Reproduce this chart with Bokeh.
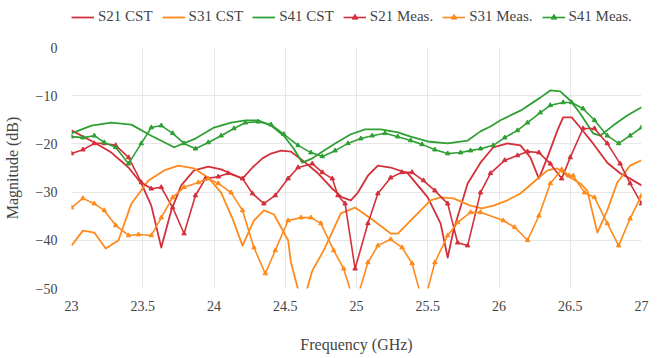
from bokeh.plotting import figure
from bokeh.layouts import column
from bokeh.models import FixedTicker, Legend, LegendItem, ColumnDataSource
from bokeh.embed import file_html
from bokeh.resources import INLINE

# ---------------- data (frequency in GHz, magnitude in dB) ----------------
s21_cst_f = [23.00, 23.16, 23.28, 23.40, 23.49, 23.56, 23.63, 23.70, 23.77, 23.86, 23.96, 24.05, 24.13,
             24.20, 24.27, 24.34, 24.40, 24.47, 24.54, 24.62, 24.73, 24.83, 24.90, 24.96, 25.01, 25.08,
             25.15, 25.24, 25.36, 25.43, 25.50, 25.59, 25.64, 25.68, 25.78, 25.87, 25.96, 26.06, 26.15,
             26.22, 26.28, 26.34, 26.41, 26.45, 26.51, 26.57, 26.66, 26.76, 26.85, 26.92, 27.00]
s21_cst_db = [-17.2, -19.7, -21.8, -24.9, -28.2, -32.8, -41.5, -33.8, -28.6, -25.5, -24.7, -25.3, -26.3,
              -27.2, -24.9, -23.0, -22.0, -21.4, -21.6, -23.4, -26.1, -29.3, -31.1, -31.7, -30.1, -26.6,
              -24.5, -24.9, -26.1, -28.6, -31.1, -36.5, -43.6, -38.0, -28.2, -23.9, -20.7, -19.9, -20.3,
              -22.8, -27.2, -22.8, -17.2, -14.5, -14.5, -16.6, -19.9, -23.9, -26.1, -27.2, -28.6]

s31_cst_f = [23.00, 23.08, 23.16, 23.24, 23.33, 23.42, 23.54, 23.65, 23.75, 23.86, 23.96, 24.05, 24.13,
             24.20, 24.28, 24.35, 24.42, 24.52, 24.54, 24.62, 24.69, 24.77, 24.89, 24.99, 25.12, 25.24,
             25.29, 25.40, 25.52, 25.59, 25.68, 25.80, 25.88, 25.96, 26.06, 26.15, 26.24, 26.34, 26.41,
             26.48, 26.57, 26.62, 26.69, 26.76, 26.83, 26.92, 27.00]
s31_cst_db = [-41.1, -38.0, -38.4, -41.7, -40.0, -32.4, -27.6, -25.5, -24.5, -25.1, -27.0, -30.1, -35.5,
              -41.1, -35.9, -33.8, -34.6, -40.0, -44.6, -53.5, -46.3, -42.1, -34.4, -33.2, -35.9, -38.6,
              -38.6, -35.3, -31.7, -31.1, -31.3, -32.8, -33.4, -32.8, -31.7, -30.3, -28.0, -25.5, -25.1,
              -26.6, -28.2, -29.7, -38.4, -33.8, -28.0, -24.5, -23.4]

s41_cst_f = [23.00, 23.14, 23.28, 23.42, 23.56, 23.72, 23.87, 24.00, 24.12, 24.22, 24.31, 24.40, 24.49,
             24.56, 24.62, 24.69, 24.77, 24.85, 24.96, 25.06, 25.17, 25.29, 25.38, 25.50, 25.64, 25.78,
             25.87, 25.94, 26.01, 26.15, 26.29, 26.36, 26.43, 26.50, 26.57, 26.66, 26.71, 26.80, 26.90,
             27.00]
s41_cst_db = [-17.8, -16.2, -15.6, -16.0, -18.3, -20.7, -18.9, -16.6, -15.6, -15.1, -15.1, -16.2, -18.3,
              -21.0, -23.9, -23.0, -21.4, -19.9, -18.0, -17.0, -17.0, -17.6, -18.5, -19.5, -19.9, -19.3,
              -17.4, -16.4, -15.1, -13.1, -10.4, -8.9, -9.1, -11.0, -13.7, -17.8, -18.3, -16.2, -14.1,
              -12.4]

s21_meas_f = [23.00, 23.08, 23.16, 23.23, 23.31, 23.40, 23.49, 23.56, 23.63, 23.71, 23.79, 23.87, 23.94,
              24.03, 24.10, 24.20, 24.27, 24.35, 24.43, 24.52, 24.59, 24.69, 24.76, 24.83, 24.87, 24.92,
              24.99, 25.08, 25.15, 25.24, 25.32, 25.39, 25.47, 25.55, 25.64, 25.71, 25.78, 25.87, 25.94,
              26.04, 26.13, 26.20, 26.28, 26.36, 26.44, 26.50, 26.59, 26.67, 26.76, 26.85, 26.92, 27.00]
s21_meas_db = [-22.0, -21.2, -19.9, -19.9, -20.3, -22.8, -28.0, -29.3, -29.0, -33.2, -38.6, -30.7, -27.2,
               -26.8, -26.1, -27.2, -30.3, -32.4, -30.7, -27.2, -24.9, -24.1, -25.9, -27.2, -30.7, -32.4,
               -45.9, -36.5, -30.3, -27.0, -25.9, -25.9, -27.6, -29.7, -32.4, -40.5, -41.1, -30.1, -26.1,
               -23.4, -22.4, -21.6, -21.8, -24.1, -27.2, -22.8, -16.8, -16.8, -19.9, -24.1, -28.2, -32.4]

s31_meas_f = [23.00, 23.08, 23.16, 23.23, 23.31, 23.40, 23.47, 23.56, 23.63, 23.71, 23.79, 23.89, 23.96,
              24.03, 24.12, 24.20, 24.28, 24.36, 24.43, 24.52, 24.61, 24.68, 24.75, 24.84, 24.91, 24.99,
              25.08, 25.15, 25.24, 25.32, 25.39, 25.47, 25.55, 25.64, 25.71, 25.80, 25.87, 26.03, 26.11,
              26.20, 26.28, 26.36, 26.44, 26.49, 26.52, 26.60, 26.67, 26.76, 26.84, 26.92, 27.00]
s31_meas_db = [-33.2, -31.3, -32.4, -33.8, -36.9, -39.0, -38.8, -39.0, -35.3, -31.1, -29.0, -28.0, -27.2,
               -28.2, -30.1, -33.8, -41.5, -46.9, -42.1, -35.9, -35.3, -35.3, -36.5, -42.1, -45.9, -53.5,
               -44.6, -41.1, -39.8, -41.5, -44.8, -53.5, -44.6, -39.0, -36.3, -34.2, -34.2, -35.9, -37.3,
               -40.0, -34.9, -28.2, -25.3, -26.6, -26.6, -30.1, -31.1, -36.5, -41.1, -35.5, -30.7]

s41_meas_f = [23.00, 23.08, 23.16, 23.23, 23.31, 23.40, 23.49, 23.56, 23.63, 23.71, 23.79, 23.87, 23.96,
              24.05, 24.14, 24.22, 24.31, 24.40, 24.49, 24.59, 24.68, 24.76, 24.85, 24.94, 25.03, 25.11,
              25.20, 25.29, 25.38, 25.46, 25.55, 25.64, 25.73, 25.80, 25.87, 25.96, 26.04, 26.13, 26.20,
              26.29, 26.36, 26.45, 26.51, 26.59, 26.67, 26.76, 26.84, 26.92, 27.00]
s41_meas_db = [-18.5, -18.7, -18.3, -19.7, -20.7, -24.1, -19.9, -16.6, -16.2, -17.8, -19.9, -21.0, -19.7,
               -18.3, -16.8, -15.6, -15.4, -16.0, -18.0, -20.3, -21.8, -22.6, -21.4, -19.9, -18.9, -18.3,
               -17.8, -18.5, -19.3, -20.1, -21.2, -22.0, -21.8, -21.4, -21.0, -20.3, -18.7, -17.2, -15.6,
               -13.5, -12.0, -11.4, -11.4, -12.7, -15.1, -18.3, -19.9, -18.3, -16.6]

x_ticks = [23, 23.5, 24, 24.5, 25, 25.5, 26, 26.5, 27]
y_ticks = [0, -10, -20, -30, -40, -50]
y_tick_labels = ["0", "\u221210", "\u221220", "\u221230", "\u221240", "\u221250"]

series_names = ["S21 CST", "S31 CST", "S41 CST", "S21 Meas.", "S31 Meas.", "S41 Meas."]

RED = "#d3303a"
ORANGE = "#ff8a1c"
GREEN = "#2f9f34"
FONT = "Liberation Serif"

# ---------------- main plot ----------------
p = figure(width=662, height=318, x_range=(23, 27), y_range=(-50, 0),
           output_backend="svg", toolbar_location=None,
           min_border_left=70, min_border_right=21, min_border_top=7, min_border_bottom=70)
p.outline_line_color = None
p.background_fill_color = "white"
p.border_fill_color = "white"

p.xaxis.ticker = FixedTicker(ticks=x_ticks)
p.yaxis.ticker = FixedTicker(ticks=y_ticks)
p.yaxis.major_label_overrides = {t: l for t, l in zip(y_ticks, y_tick_labels)}
for ax in (p.xaxis[0], p.yaxis[0]):
    ax.axis_line_color = None
    ax.major_tick_line_color = None
    ax.minor_tick_line_color = None
    ax.major_label_text_font = FONT
    ax.major_label_text_font_size = "14px"
    ax.major_label_text_color = "#444444"
    ax.axis_label_text_font = FONT
    ax.axis_label_text_font_size = "16px"
    ax.axis_label_text_font_style = "normal"
    ax.axis_label_text_color = "#444444"
p.xaxis.axis_label = "Frequency (GHz)"
p.yaxis.axis_label = "Magnitude (dB)"
p.xaxis.major_label_standoff = 6
p.yaxis.major_label_standoff = 8
p.xaxis.axis_label_standoff = 22
p.yaxis.axis_label_standoff = 12

p.xgrid.ticker = FixedTicker(ticks=x_ticks[1:-1])
p.xgrid.grid_line_color = "#e8e8e8"
p.ygrid.grid_line_color = "#e6e6e6"

cst = [(s21_cst_f, s21_cst_db, RED), (s31_cst_f, s31_cst_db, ORANGE), (s41_cst_f, s41_cst_db, GREEN)]
meas = [(s21_meas_f, s21_meas_db, RED), (s31_meas_f, s31_meas_db, ORANGE), (s41_meas_f, s41_meas_db, GREEN)]

for f, db, c in cst:
    p.line(f, db, line_color=c, line_width=1.8, line_join="round")
for f, db, c in meas:
    src = ColumnDataSource(dict(x=f, y=db))
    p.line("x", "y", source=src, line_color=c, line_width=1.6)
    p.scatter("x", "y", source=src, marker="triangle", size=4.5, fill_color=c, line_color=c)

# ---------------- legend strip (its glyphs use the series' own data, off view) ----------------
lg = figure(width=662, height=40, x_range=(0, 1), y_range=(0, 1),
            x_axis_location=None, y_axis_location=None,
            output_backend="svg", toolbar_location=None,
            min_border_left=0, min_border_right=0, min_border_top=0, min_border_bottom=0)
lg.outline_line_color = None
lg.grid.visible = False
lg.background_fill_color = "white"
lg.border_fill_color = "white"

items = []
for name, (f, db, c) in zip(series_names[:3], cst):
    r = lg.line(f, db, line_color=c, line_width=1.8)
    items.append(LegendItem(label=name, renderers=[r]))
for name, (f, db, c) in zip(series_names[3:], meas):
    r1 = lg.line(f, db, line_color=c, line_width=1.6)
    r2 = lg.scatter(f, db, marker="triangle", size=4.5, fill_color=c, line_color=c)
    items.append(LegendItem(label=name, renderers=[r1, r2]))

legend = Legend(items=items, orientation="horizontal", location=(0, 15),
                label_text_font=FONT, label_text_font_size="15px", label_text_color="#444444",
                glyph_width=23, glyph_height=14, label_standoff=4, spacing=9,
                border_line_color=None, background_fill_alpha=0,
                padding=0, margin=0)
lg.add_layout(legend, "center")

layout = column(lg, p, spacing=0)

with open("out.html", "w") as fh:
    fh.write(file_html(layout, INLINE))
